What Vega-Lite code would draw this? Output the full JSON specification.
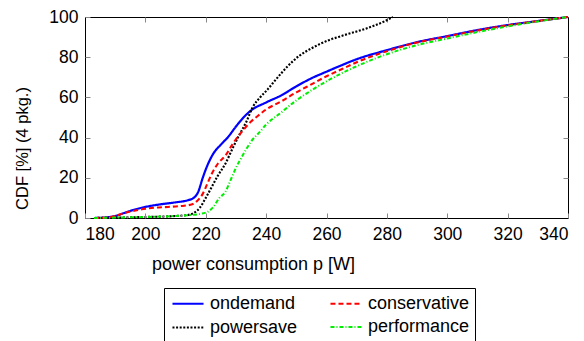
{
  "$schema": "https://vega.github.io/schema/vega-lite/v6.json",
  "width": 483,
  "height": 201,
  "autosize": {"type": "none"},
  "padding": {"left": 85, "top": 17, "right": 16, "bottom": 123},
  "background": "white",
  "config": {
    "view": {"stroke": "#000", "strokeWidth": 1},
    "font": "Liberation Sans",
    "axis": {
      "domain": false,
      "grid": false,
      "tickColor": "#888",
      "tickSize": -5,
      "labelFont": "Liberation Sans",
      "labelFontSize": 17.5,
      "labelColor": "#000",
      "titleFont": "Liberation Sans",
      "titleFontSize": 18,
      "titleFontWeight": "normal",
      "titleColor": "#000"
    },
    "legend": {
      "orient": "none",
      "legendX": 79,
      "legendY": 271,
      "columns": 2,
      "strokeColor": "#000",
      "padding": 5,
      "symbolType": "M-0.78,0H2.67",
      "symbolSize": 324,
      "symbolStrokeWidth": 2,
      "labelFont": "Liberation Sans",
      "labelFontSize": 18,
      "labelColor": "#000",
      "labelOffset": 20,
      "columnPadding": 28,
      "rowPadding": 4
    }
  },
  "data": {
    "values": [
      {"p": 183, "cdf": 0, "gov": "ondemand"},
      {"p": 186, "cdf": 0.2, "gov": "ondemand"},
      {"p": 188, "cdf": 0.5, "gov": "ondemand"},
      {"p": 190, "cdf": 1, "gov": "ondemand"},
      {"p": 193, "cdf": 2.5, "gov": "ondemand"},
      {"p": 196, "cdf": 4, "gov": "ondemand"},
      {"p": 200, "cdf": 5.5, "gov": "ondemand"},
      {"p": 205, "cdf": 6.8, "gov": "ondemand"},
      {"p": 210, "cdf": 7.8, "gov": "ondemand"},
      {"p": 214, "cdf": 8.8, "gov": "ondemand"},
      {"p": 216, "cdf": 10, "gov": "ondemand"},
      {"p": 217.5, "cdf": 13, "gov": "ondemand"},
      {"p": 219, "cdf": 20, "gov": "ondemand"},
      {"p": 220.5, "cdf": 26, "gov": "ondemand"},
      {"p": 222.5, "cdf": 32, "gov": "ondemand"},
      {"p": 225, "cdf": 36.5, "gov": "ondemand"},
      {"p": 227.5, "cdf": 40.5, "gov": "ondemand"},
      {"p": 230, "cdf": 45.5, "gov": "ondemand"},
      {"p": 232.5, "cdf": 50, "gov": "ondemand"},
      {"p": 235, "cdf": 53.5, "gov": "ondemand"},
      {"p": 240, "cdf": 57.5, "gov": "ondemand"},
      {"p": 245, "cdf": 61, "gov": "ondemand"},
      {"p": 250, "cdf": 65.5, "gov": "ondemand"},
      {"p": 255, "cdf": 69.5, "gov": "ondemand"},
      {"p": 260, "cdf": 72.8, "gov": "ondemand"},
      {"p": 265, "cdf": 76, "gov": "ondemand"},
      {"p": 270, "cdf": 79, "gov": "ondemand"},
      {"p": 280, "cdf": 83.5, "gov": "ondemand"},
      {"p": 290, "cdf": 87.5, "gov": "ondemand"},
      {"p": 300, "cdf": 90.5, "gov": "ondemand"},
      {"p": 310, "cdf": 93.5, "gov": "ondemand"},
      {"p": 320, "cdf": 96, "gov": "ondemand"},
      {"p": 330, "cdf": 98, "gov": "ondemand"},
      {"p": 340, "cdf": 100, "gov": "ondemand"},
      {"p": 183, "cdf": 0, "gov": "powersave"},
      {"p": 190, "cdf": 0.2, "gov": "powersave"},
      {"p": 200, "cdf": 0.5, "gov": "powersave"},
      {"p": 210, "cdf": 1, "gov": "powersave"},
      {"p": 214, "cdf": 1.5, "gov": "powersave"},
      {"p": 216, "cdf": 2.5, "gov": "powersave"},
      {"p": 218, "cdf": 5, "gov": "powersave"},
      {"p": 220, "cdf": 10, "gov": "powersave"},
      {"p": 222, "cdf": 15.5, "gov": "powersave"},
      {"p": 224, "cdf": 21, "gov": "powersave"},
      {"p": 226.5, "cdf": 27, "gov": "powersave"},
      {"p": 229, "cdf": 35, "gov": "powersave"},
      {"p": 231, "cdf": 41, "gov": "powersave"},
      {"p": 233.5, "cdf": 48, "gov": "powersave"},
      {"p": 235.5, "cdf": 55, "gov": "powersave"},
      {"p": 238, "cdf": 60, "gov": "powersave"},
      {"p": 240.5, "cdf": 64, "gov": "powersave"},
      {"p": 243, "cdf": 68.5, "gov": "powersave"},
      {"p": 245, "cdf": 72, "gov": "powersave"},
      {"p": 247, "cdf": 75.3, "gov": "powersave"},
      {"p": 249, "cdf": 78.2, "gov": "powersave"},
      {"p": 251, "cdf": 80.7, "gov": "powersave"},
      {"p": 253, "cdf": 82.7, "gov": "powersave"},
      {"p": 255, "cdf": 84.4, "gov": "powersave"},
      {"p": 258, "cdf": 86.7, "gov": "powersave"},
      {"p": 261, "cdf": 88.6, "gov": "powersave"},
      {"p": 264, "cdf": 90.1, "gov": "powersave"},
      {"p": 267, "cdf": 91.5, "gov": "powersave"},
      {"p": 270, "cdf": 92.8, "gov": "powersave"},
      {"p": 273, "cdf": 94.2, "gov": "powersave"},
      {"p": 276, "cdf": 95.8, "gov": "powersave"},
      {"p": 279, "cdf": 97.7, "gov": "powersave"},
      {"p": 282, "cdf": 100, "gov": "powersave"},
      {"p": 183, "cdf": 0, "gov": "conservative"},
      {"p": 188, "cdf": 0.3, "gov": "conservative"},
      {"p": 191, "cdf": 1.5, "gov": "conservative"},
      {"p": 194, "cdf": 2.8, "gov": "conservative"},
      {"p": 197.5, "cdf": 4, "gov": "conservative"},
      {"p": 202, "cdf": 5, "gov": "conservative"},
      {"p": 207.5, "cdf": 5.5, "gov": "conservative"},
      {"p": 212, "cdf": 6, "gov": "conservative"},
      {"p": 215.5, "cdf": 6.8, "gov": "conservative"},
      {"p": 217.5, "cdf": 9, "gov": "conservative"},
      {"p": 219, "cdf": 12, "gov": "conservative"},
      {"p": 220.5, "cdf": 17, "gov": "conservative"},
      {"p": 222, "cdf": 22, "gov": "conservative"},
      {"p": 224, "cdf": 27, "gov": "conservative"},
      {"p": 226.5, "cdf": 31, "gov": "conservative"},
      {"p": 229, "cdf": 37, "gov": "conservative"},
      {"p": 232, "cdf": 43, "gov": "conservative"},
      {"p": 235, "cdf": 48, "gov": "conservative"},
      {"p": 237, "cdf": 50.5, "gov": "conservative"},
      {"p": 240, "cdf": 54, "gov": "conservative"},
      {"p": 245, "cdf": 58, "gov": "conservative"},
      {"p": 250, "cdf": 62.5, "gov": "conservative"},
      {"p": 255, "cdf": 66.5, "gov": "conservative"},
      {"p": 260, "cdf": 70.5, "gov": "conservative"},
      {"p": 265, "cdf": 74, "gov": "conservative"},
      {"p": 270, "cdf": 77.5, "gov": "conservative"},
      {"p": 280, "cdf": 83, "gov": "conservative"},
      {"p": 290, "cdf": 87.3, "gov": "conservative"},
      {"p": 300, "cdf": 90.3, "gov": "conservative"},
      {"p": 310, "cdf": 93.3, "gov": "conservative"},
      {"p": 320, "cdf": 95.8, "gov": "conservative"},
      {"p": 330, "cdf": 98, "gov": "conservative"},
      {"p": 340, "cdf": 100, "gov": "conservative"},
      {"p": 183, "cdf": 0, "gov": "performance"},
      {"p": 190, "cdf": 0.2, "gov": "performance"},
      {"p": 200, "cdf": 0.5, "gov": "performance"},
      {"p": 210, "cdf": 1, "gov": "performance"},
      {"p": 215, "cdf": 1.5, "gov": "performance"},
      {"p": 218, "cdf": 2, "gov": "performance"},
      {"p": 220.5, "cdf": 3, "gov": "performance"},
      {"p": 222.5, "cdf": 5.5, "gov": "performance"},
      {"p": 224.5, "cdf": 10, "gov": "performance"},
      {"p": 226.5, "cdf": 13, "gov": "performance"},
      {"p": 228, "cdf": 18, "gov": "performance"},
      {"p": 230, "cdf": 25, "gov": "performance"},
      {"p": 232, "cdf": 30.5, "gov": "performance"},
      {"p": 235, "cdf": 38, "gov": "performance"},
      {"p": 238, "cdf": 43, "gov": "performance"},
      {"p": 240, "cdf": 46.5, "gov": "performance"},
      {"p": 245, "cdf": 52.5, "gov": "performance"},
      {"p": 250, "cdf": 58.5, "gov": "performance"},
      {"p": 255, "cdf": 63.5, "gov": "performance"},
      {"p": 260, "cdf": 68, "gov": "performance"},
      {"p": 265, "cdf": 72, "gov": "performance"},
      {"p": 270, "cdf": 75.5, "gov": "performance"},
      {"p": 280, "cdf": 81.5, "gov": "performance"},
      {"p": 290, "cdf": 86, "gov": "performance"},
      {"p": 300, "cdf": 89.3, "gov": "performance"},
      {"p": 310, "cdf": 92.5, "gov": "performance"},
      {"p": 320, "cdf": 95.3, "gov": "performance"},
      {"p": 330, "cdf": 97.8, "gov": "performance"},
      {"p": 340, "cdf": 100, "gov": "performance"}
    ]
  },
  "layer": [
    {
      "mark": {"type": "line", "interpolate": "monotone"},
      "encoding": {
        "x": {
          "field": "p",
          "type": "quantitative",
          "scale": {"domain": [180, 340], "nice": false, "zero": false},
          "axis": {
            "orient": "bottom",
            "values": [180, 200, 220, 240, 260, 280, 300, 320, 340],
            "labelPadding": 12,
            "title": "power consumption p [W]",
            "titleX": 168,
            "titleY": 51,
            "titleBaseline": "alphabetic",
            "titleAlign": "center",
            "titleAnchor": null
          }
        },
        "y": {
          "field": "cdf",
          "type": "quantitative",
          "scale": {"domain": [0, 100], "nice": false},
          "axis": {
            "orient": "left",
            "values": [0, 20, 40, 60, 80, 100],
            "labelPadding": 12,
            "title": "CDF [%] (4 pkg.)",
            "titleFontSize": 16.5,
            "titleX": -58,
            "titleY": 131,
            "titleAngle": -90,
            "titleBaseline": "alphabetic",
            "titleAlign": "center",
            "titleAnchor": null
          }
        },
        "color": {
          "field": "gov",
          "type": "nominal",
          "scale": {
            "domain": ["ondemand", "powersave", "conservative", "performance"],
            "range": ["#0000ff", "#000000", "#ff0000", "#00ee00"]
          },
          "legend": {"title": null}
        },
        "strokeDash": {
          "field": "gov",
          "type": "nominal",
          "scale": {
            "domain": ["ondemand", "powersave", "conservative", "performance"],
            "range": [[1, 0], [2, 1.6], [5, 3], [4, 2, 1, 2]]
          },
          "legend": {"title": null}
        },
        "strokeWidth": {
          "field": "gov",
          "type": "nominal",
          "scale": {
            "domain": ["ondemand", "powersave", "conservative", "performance"],
            "range": [2.2, 2, 2.2, 1.6]
          },
          "legend": null
        }
      }
    },
    {
      "mark": {"type": "point", "opacity": 0},
      "encoding": {
        "x": {
          "field": "p",
          "type": "quantitative",
          "axis": {
            "orient": "top",
            "values": [200, 220, 240, 260, 280, 300, 320],
            "labels": false,
            "title": null
          }
        },
        "y": {
          "field": "cdf",
          "type": "quantitative",
          "axis": {
            "orient": "right",
            "values": [20, 40, 60, 80],
            "labels": false,
            "title": null
          }
        }
      }
    }
  ]
}
